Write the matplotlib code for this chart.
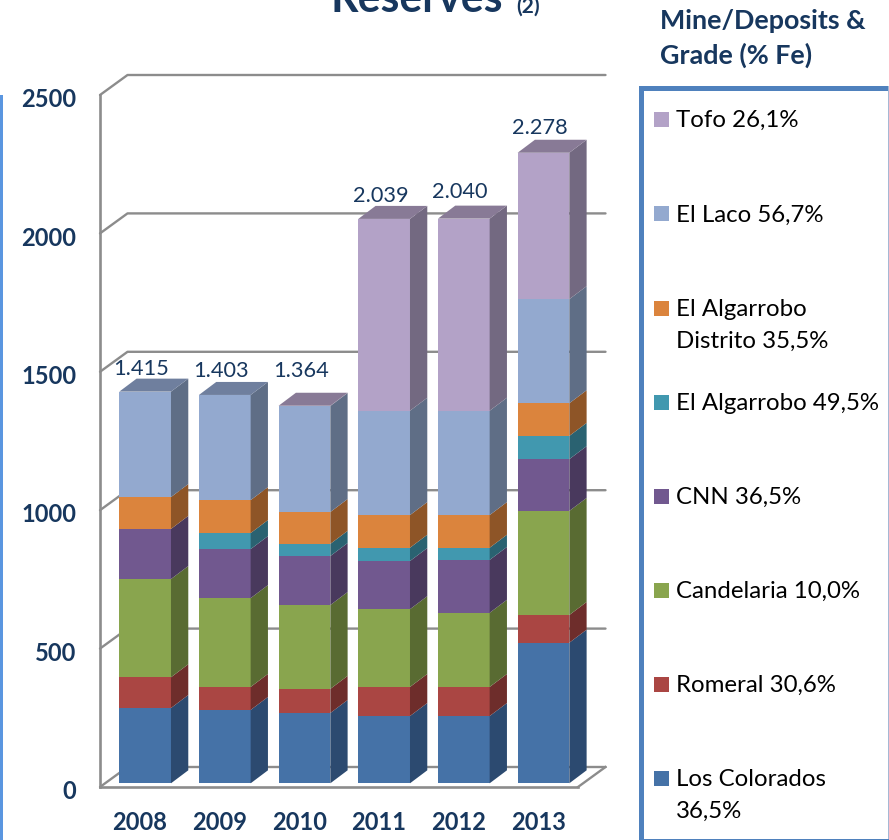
import numpy as np
import matplotlib
matplotlib.use("Agg")
import matplotlib.pyplot as plt
from matplotlib.patches import Polygon, Rectangle
from matplotlib.transforms import ScaledTranslation

plt.rcParams['font.family'] = ['Lato', 'DejaVu Sans']

years = ['2008', '2009', '2010', '2011', '2012', '2013']
totals = ['1.415', '1.403', '1.364', '2.039', '2.040', '2.278']
y_ticks = [0, 500, 1000, 1500, 2000, 2500]

# tons per deposit, bottom of the stack first
los_colorados = [272, 265, 254, 243, 243, 508]
romeral = [111, 83, 87, 105, 105, 100]
candelaria = [355, 321, 303, 281, 268, 376]
cnn = [181, 177, 177, 174, 191, 187]
algarrobo = [0, 58, 44, 48, 44, 84]
algarrobo_distrito = [115, 119, 115, 118, 118, 118]
el_laco = [381, 380, 383, 377, 377, 376]
tofo = [0, 0, 1, 693, 694, 529]

series = [los_colorados, romeral, candelaria, cnn, algarrobo, algarrobo_distrito, el_laco, tofo]
names = ['Los Colorados\n36,5%', 'Romeral 30,6%', 'Candelaria 10,0%', 'CNN 36,5%',
         'El Algarrobo 49,5%', 'El Algarrobo\nDistrito 35,5%', 'El Laco 56,7%', 'Tofo 26,1%']
front_colors = ['#4572a7', '#aa4643', '#89a54e', '#71588f', '#4198af', '#db843d', '#93a9cf', '#b3a2c7']
side_colors = ['#2c4a70', '#6e2d2b', '#596b32', '#49395d', '#2a6271', '#8e5527', '#5f6e86', '#736981']
top_colors = ['#3a5f8a', '#8c3a38', '#71883f', '#5d4876', '#36809a', '#b56d32', '#6f7f9e', '#887a96']

navy = '#17375e'
grid_gray = '#8c8c8c'
box_blue = '#4f81bd'

W, H = 889, 840
fig = plt.figure(figsize=(W / 100, H / 100), dpi=100, facecolor='white')

# pixel layer for the things around the chart
bg = fig.add_axes([0, 0, 1, 1])
bg.set_xlim(0, W)
bg.set_ylim(H, 0)
bg.axis('off')

ax = fig.add_axes([100 / W, (H - 787) / H, 478 / W, 692 / H])
ax.set_xlim(-0.5, 5.5)
ax.set_ylim(0, 2500)
ax.patch.set_alpha(0)

px_x = 6 / 478   # one pixel in x units
px_y = 2500 / 692  # one pixel in y units

# walls and gridlines
back_dx, back_dy = 27.5 * px_x, 20 * px_y
for v in y_ticks:
    ax.plot([-0.5, -0.5 + back_dx, 5.5 + back_dx], [v, v + back_dy, v + back_dy],
            color=grid_gray, lw=1.7, clip_on=False, zorder=1, solid_capstyle='round')
ax.plot([5.5, 5.5 + back_dx], [0, back_dy], color=grid_gray, lw=1.7, clip_on=False, zorder=1)

# bars
bar_w = 51.7 * px_x
shift_x, shift_y = 5.3 * px_x, 3.7 * px_y
depth_x, depth_y = 17.3 * px_x, 13 * px_y
x = np.arange(len(years)) + shift_x
bottom = np.zeros(len(years)) + shift_y
for vals, fc, sc, tc in zip(series, front_colors, side_colors, top_colors):
    vals = np.array(vals, dtype=float)
    ax.bar(x, vals, bar_w, bottom=bottom, color=fc, zorder=3, clip_on=False)
    for xi, b, v in zip(x, bottom, vals):
        if v == 0:
            continue
        r = xi + bar_w / 2
        ax.add_patch(Polygon([(r, b), (r + depth_x, b + depth_y), (r + depth_x, b + v + depth_y), (r, b + v)],
                             facecolor=sc, edgecolor='none', zorder=3, clip_on=False))
    bottom = bottom + vals

# top faces take the colour of the last series present
for i in range(len(years)):
    last = max(k for k in range(len(series)) if series[k][i] > 0)
    t = bottom[i]
    l, r = x[i] - bar_w / 2, x[i] + bar_w / 2
    ax.add_patch(Polygon([(l, t), (r, t), (r + depth_x, t + depth_y), (l + depth_x, t + depth_y)],
                         facecolor=top_colors[last], edgecolor='none', zorder=3, clip_on=False))

# total labels sit a bit unevenly in the original
label_gap = [23, 24, 35, 23, 27, 24.5]
for i, txt in enumerate(totals):
    ax.text(i + 1.5 * px_x, bottom[i] + label_gap[i] * px_y, txt, ha='center', va='center',
            fontsize=15.7, color=navy, zorder=4, clip_on=False)

ax.set_xticks(range(len(years)), years)
ax.set_yticks(y_ticks, [str(v) for v in y_ticks])
ax.tick_params(axis='both', length=0, labelsize=17, labelcolor=navy)
ax.tick_params(axis='x', pad=17)
ax.tick_params(axis='y', pad=17)
for lab in ax.get_xticklabels() + ax.get_yticklabels():
    lab.set_fontweight('bold')
for lab in ax.get_yticklabels():
    lab.set_transform(lab.get_transform() + ScaledTranslation(0, -2 / 72, fig.dpi_scale_trans))
for s in ['top', 'right']:
    ax.spines[s].set_visible(False)
for s in ['left', 'bottom']:
    ax.spines[s].set_color(grid_gray)
    ax.spines[s].set_linewidth(1.9)
    ax.spines[s].set_zorder(2)

# title is cut off by the top edge in the original
bg.text(331, 12, 'Reserves', fontsize=30.8, fontweight='bold', color=navy, ha='left', va='baseline')
bg.text(516, 13, '(2)', fontsize=15, fontweight='bold', color=navy, ha='left', va='baseline')

# left strip and legend box
bg.add_patch(Rectangle((0, 95), 3, H - 95, facecolor='#5a96e0', edgecolor='none'))
bg.add_patch(Rectangle((639, 86), 5, H - 86, facecolor=box_blue, edgecolor='none'))
bg.add_patch(Rectangle((639, 86), W - 639, 5, facecolor=box_blue, edgecolor='none'))
bg.add_patch(Rectangle((888, 86), 1, H - 86, facecolor='#a5b8d4', edgecolor='none'))
bg.add_patch(Rectangle((639, 839), W - 639, 1, facecolor=box_blue, edgecolor='none'))

bg.text(660, 21, 'Mine/Deposits &', fontsize=19.4, fontweight='bold', color=navy, va='center')
bg.text(660, 55, 'Grade (% Fe)', fontsize=19.4, fontweight='bold', color=navy, va='center')

for k, name in enumerate(names):
    y = 778.5 - 94.1 * k
    bg.add_patch(Rectangle((654, y - 7.5), 15, 15, facecolor=front_colors[k], edgecolor='none'))
    for j, line in enumerate(name.split('\n')):
        bg.text(676, y + 32 * j + 1, line, fontsize=17.3, color='black', va='center')

fig.savefig('out.png', dpi=100)
